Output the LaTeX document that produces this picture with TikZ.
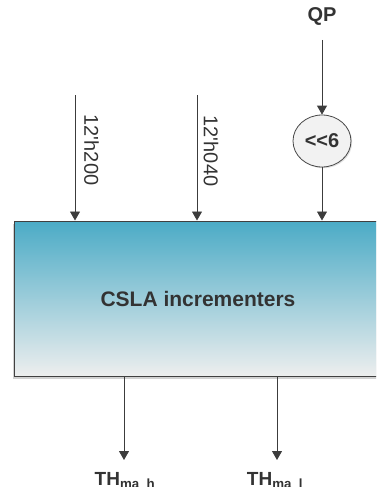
\documentclass[tikz,border=0pt]{standalone}
\usepackage{fontspec}
\setmainfont{Liberation Sans}[Ligatures=TeXOff]
\usetikzlibrary{arrows.meta,shapes.geometric,shadows}

\definecolor{inktext}{RGB}{51,51,51}
\definecolor{boxtop}{RGB}{75,171,198}
\definecolor{boxbot}{RGB}{237,238,238}
\definecolor{boxedge}{RGB}{64,64,64}
\definecolor{wire}{RGB}{60,60,60}

\begin{document}
\begin{tikzpicture}[x=1pt,y=-1pt,
  wirearrow/.style={draw=wire, line width=0.8pt, -{Triangle[width=10pt,length=9pt]}},
  boldlabel/.style={font=\fontsize{20}{22}\selectfont\bfseries, text=inktext, inner sep=0pt},
  vlabel/.style={font=\fontsize{20}{22}\selectfont, text=inktext, rotate=-90, inner sep=0pt},
  outlabel/.style={font=\fontsize{19}{22}\selectfont\bfseries, text=inktext, inner sep=0pt, anchor=base},
]
\useasboundingbox (0,0) rectangle (376,487);
\clip (0,0) rectangle (376,487);

% incrementer block (runs off the right edge)
\node[draw=boxedge, line width=1pt, top color=boxtop, bottom color=boxbot,
      minimum width=368pt, minimum height=155pt, inner sep=0pt,
      drop shadow={shadow xshift=-1.5pt, shadow yshift=-2.5pt, fill=gray!60, opacity=0.6},
      font=\fontsize{21}{24}\selectfont\bfseries, text=inktext]
      (box) at (198,298.5) {CSLA incrementers};

% QP input through the shifter
\node[boldlabel] (qp) at (322,16) {QP};
\node[ellipse, draw=gray!55!black, fill=gray!10, line width=0.8pt,
      drop shadow={shadow xshift=1.2pt, shadow yshift=-1.2pt, fill=gray!50, opacity=0.5},
      minimum width=58pt, minimum height=52pt, boldlabel]
      (shl) at (322,141) {<{}<6};
\coordinate (qpstart) at (322,40);
\draw[wirearrow] (qpstart) -- (shl.north);
\draw[wirearrow] (shl.south) -- (shl.south |- box.north);

% constant inputs
\coordinate (in1) at (75,95);
\coordinate (in2) at (197,95);
\draw[wirearrow] (in1) -- (in1 |- box.north);
\draw[wirearrow] (in2) -- (in2 |- box.north);
\node[vlabel] (c1) at (91.5,150) {12'h200};
\node[vlabel] (c2) at (211,151) {12'h040};

% outputs
\coordinate (o1) at (124,460);
\coordinate (o2) at (277,460);
\draw[wirearrow] (box.south -| o1) -- (o1);
\draw[wirearrow] (box.south -| o2) -- (o2);
\node[outlabel] (th1) at (125,485) {TH\textsubscript{ma\_h}};
\node[outlabel] (th2) at (275,485) {TH\textsubscript{ma\_l}};
\end{tikzpicture}
\end{document}
